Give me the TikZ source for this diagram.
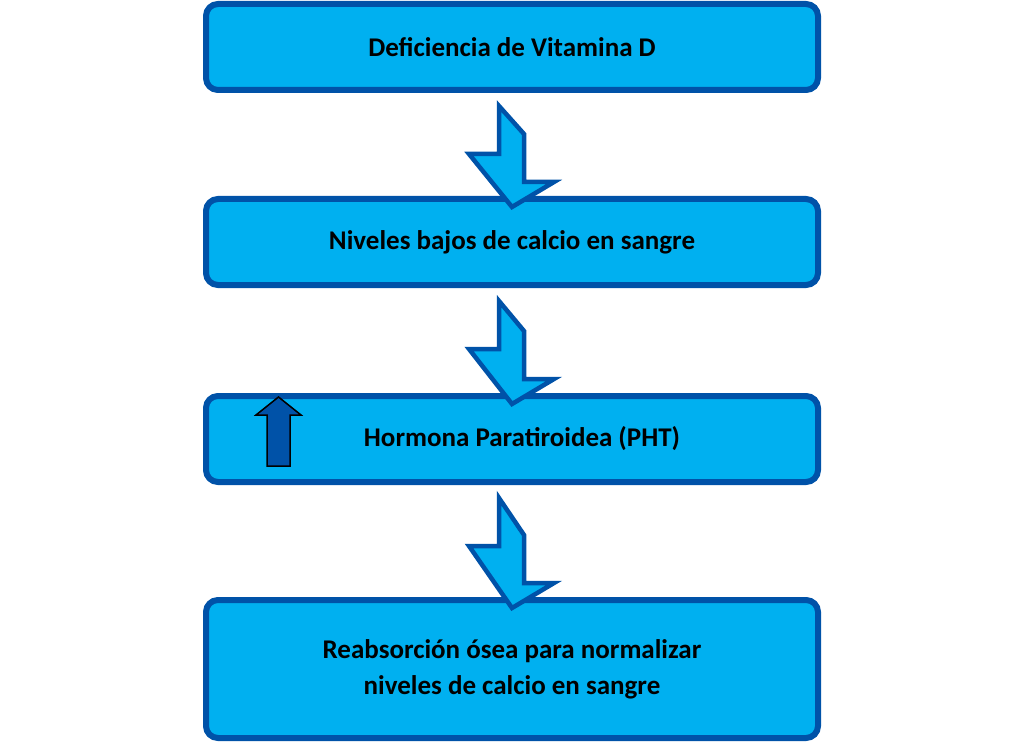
\documentclass[tikz,border=0pt]{standalone}
\usepackage{fontspec}
\setmainfont{Carlito}
\usetikzlibrary{positioning}
\definecolor{boxfill}{HTML}{00B0F0}
\definecolor{boxline}{HTML}{0052A8}
\begin{document}
\begin{tikzpicture}[x=1pt,y=-1pt,
box/.style={draw=boxline, fill=boxfill, line width=6pt, rounded corners=12pt, minimum width=612pt, align=center, font=\fontsize{27}{36}\selectfont\bfseries},
flow/.style={draw=boxline, fill=boxfill, line width=4.5pt, line join=miter},
up/.style={draw=black, fill=boxline, line width=1.5pt},
]
\useasboundingbox (0,0) rectangle (1024,743);

\node[box, minimum height=86pt] (vitd) at (512,47) {Deficiencia de Vitamina D};
\node[box, minimum height=86pt] (calcio) at (512,242) {Niveles bajos de calcio en sangre};
\node[box, minimum height=86pt] (pht) at (512,439) {\hspace*{20pt}Hormona Paratiroidea (PHT)};
\node[box, minimum height=138pt] (reab) at (512,669) {Reabsorción ósea para normalizar\\niveles de calcio en sangre};

% block arrows between the boxes
\foreach \a/\b in {vitd/calcio, calcio/pht, pht/reab}
  \draw[flow] ([xshift=-13pt,yshift=-13pt]\a.south) -- ++(0,48) -- ++(-30,0)
    -- ([yshift=-11pt]\b.north) -- ++(42,-25) -- ++(-30,0) -- ++(0,-48) -- cycle;

% up arrow inside pht box
\draw[up] (267,466) -- (267,415) -- (256,415) -- (278.5,397) -- (301,415) -- (290,415) -- (290,466) -- cycle;
\end{tikzpicture}
\end{document}
